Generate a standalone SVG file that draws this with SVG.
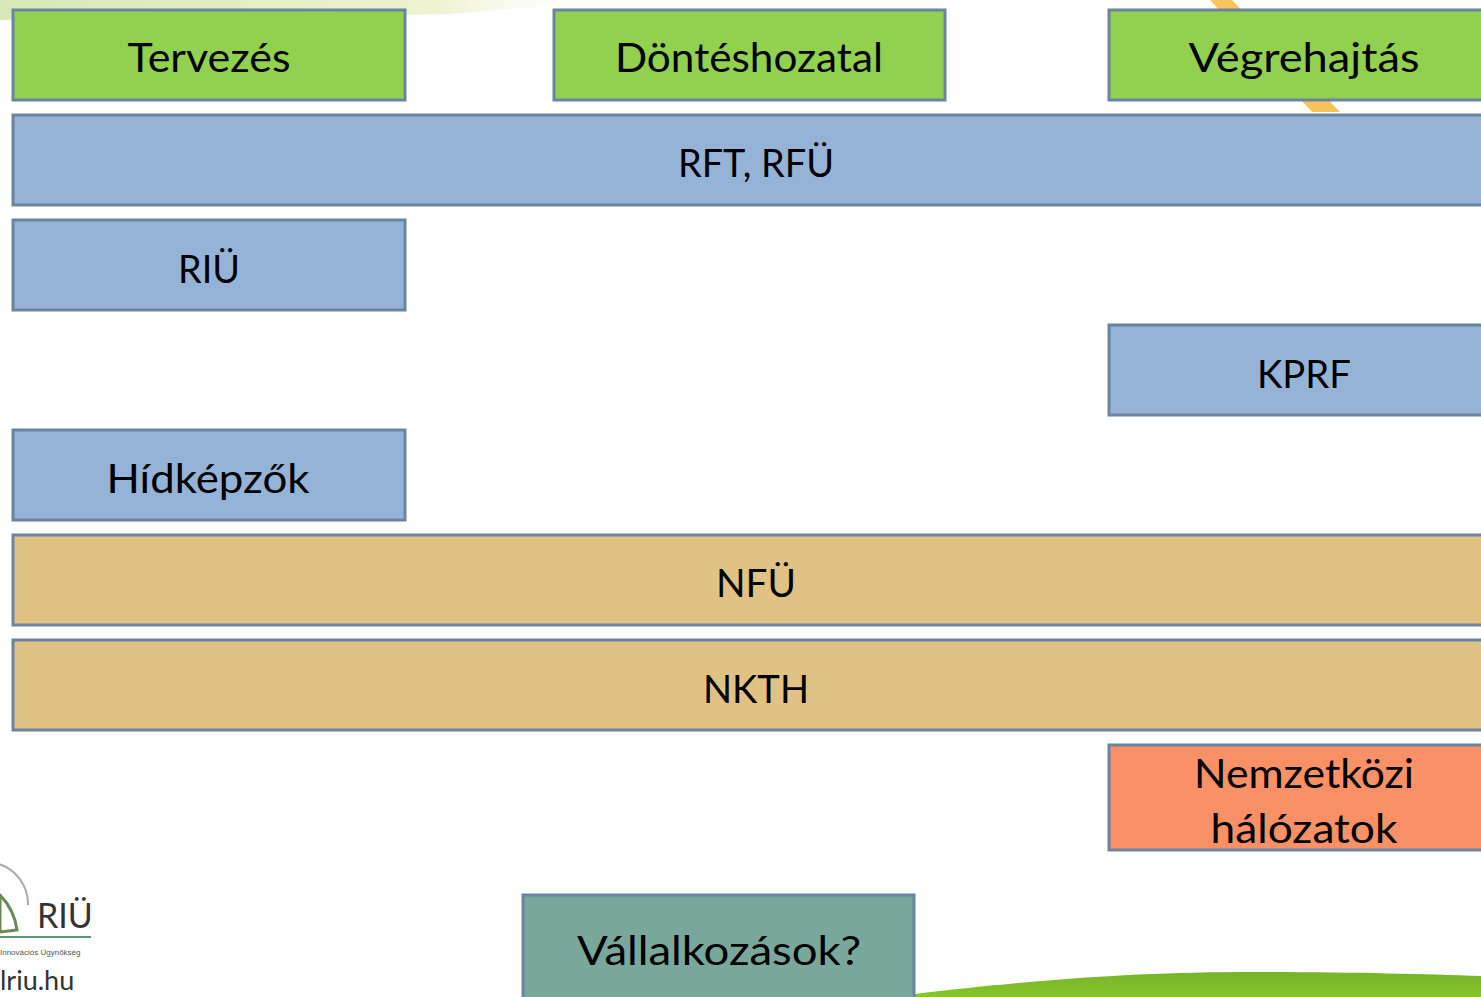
<svg xmlns="http://www.w3.org/2000/svg" width="1481" height="997" viewBox="0 0 1481 997">
<style>
.box{stroke:#6b84a0;stroke-width:3}
.g{fill:#92d050}.b{fill:#95b3d7}.t{fill:#dfc284}.s{fill:#f99066}.v{fill:#7aa79b}
.fu{font-family:"Lato","Liberation Sans",sans-serif;font-size:41px;fill:#000;text-anchor:middle}
.ca{font-family:"Lato","Liberation Sans",sans-serif;font-size:38px;fill:#000;text-anchor:middle}
</style>
<defs>
<linearGradient id="sw" x1="0" y1="0" x2="1" y2="0">
<stop offset="0" stop-color="#d7e8b8"/><stop offset="0.7" stop-color="#eef2d0"/><stop offset="1" stop-color="#ffffff" stop-opacity="0"/>
</linearGradient>
<linearGradient id="hill" x1="0" y1="0" x2="0" y2="1">
<stop offset="0" stop-color="#76b52a"/><stop offset="1" stop-color="#86c52a"/>
</linearGradient>
</defs>
<rect width="1481" height="997" fill="#fff"/>
<g id="background">
<path d="M0 0 H620 L450 14 C300 18 120 18 0 20 Z" fill="url(#sw)"/>
<path d="M1210 0 L1232 0 L1340 112 L1312 112 Z" fill="#f5b840" opacity="0.85"/>
<path d="M915 994 C1050 978 1150 972 1250 972 C1350 972 1420 974 1481 976 V997 H915 Z" fill="url(#hill)"/>
</g>
<g id="logo">
<path d="M-5 863 A42 42 0 0 1 28 905" fill="none" stroke="#aaa" stroke-width="2"/>
<path d="M0 895 C10 905 15 915 17 930 L0 932 Z" fill="none" stroke="#6a8a5a" stroke-width="3"/>
<line x1="0" y1="937" x2="91" y2="937" stroke="#5a9a70" stroke-width="2"/>
<text x="37" y="928" font-family="Lato,'Liberation Sans',sans-serif" font-size="34" fill="#333">RIÜ</text>
<text x="0" y="955" font-family="'Liberation Sans',sans-serif" font-size="8" fill="#555">Innovációs Ügynökség</text>
<text x="0" y="990" font-family="Lato,'Liberation Sans',sans-serif" font-size="27" fill="#333">lriu.hu</text>
</g>
<g id="connectors"></g>
<g id="n-tervezes"><rect class="box g" x="13" y="10" width="392" height="90"/><text class="fu" x="209" y="72" textLength="163" lengthAdjust="spacingAndGlyphs">Tervezés</text></g>
<g id="n-dontes"><rect class="box g" x="554" y="10" width="391" height="90"/><text class="fu" x="749" y="72" textLength="268" lengthAdjust="spacingAndGlyphs">Döntéshozatal</text></g>
<g id="n-vegre"><rect class="box g" x="1109" y="10" width="390" height="90"/><text class="fu" x="1304" y="72" textLength="231" lengthAdjust="spacingAndGlyphs">Végrehajtás</text></g>
<g id="n-rft"><rect class="box b" x="13" y="115" width="1490" height="90"/><text class="ca" x="756" y="177" textLength="156" lengthAdjust="spacingAndGlyphs">RFT, RFÜ</text></g>
<g id="n-riu"><rect class="box b" x="13" y="220" width="392" height="90"/><text class="ca" x="209" y="283" textLength="62" lengthAdjust="spacingAndGlyphs">RIÜ</text></g>
<g id="n-kprf"><rect class="box b" x="1109" y="325" width="390" height="90"/><text class="ca" x="1304" y="388" textLength="94" lengthAdjust="spacingAndGlyphs">KPRF</text></g>
<g id="n-hid"><rect class="box b" x="13" y="430" width="392" height="90"/><text class="fu" x="208" y="493" textLength="203" lengthAdjust="spacingAndGlyphs">Hídképzők</text></g>
<g id="n-nfu"><rect class="box t" x="13" y="535" width="1490" height="90"/><text class="ca" x="756" y="597" textLength="80" lengthAdjust="spacingAndGlyphs">NFÜ</text></g>
<g id="n-nkth"><rect class="box t" x="13" y="640" width="1490" height="90"/><text class="ca" x="756" y="703" textLength="106" lengthAdjust="spacingAndGlyphs">NKTH</text></g>
<g id="n-nemzet"><rect class="box s" x="1109" y="745" width="390" height="105"/><text class="fu" x="1304" y="788" textLength="220" lengthAdjust="spacingAndGlyphs">Nemzetközi</text><text class="fu" x="1304" y="843" textLength="187" lengthAdjust="spacingAndGlyphs">hálózatok</text></g>
<g id="n-vall"><rect class="box v" x="523" y="895" width="391" height="120"/><text class="fu" x="719" y="965" textLength="284" lengthAdjust="spacingAndGlyphs">Vállalkozások?</text></g>
</svg>
